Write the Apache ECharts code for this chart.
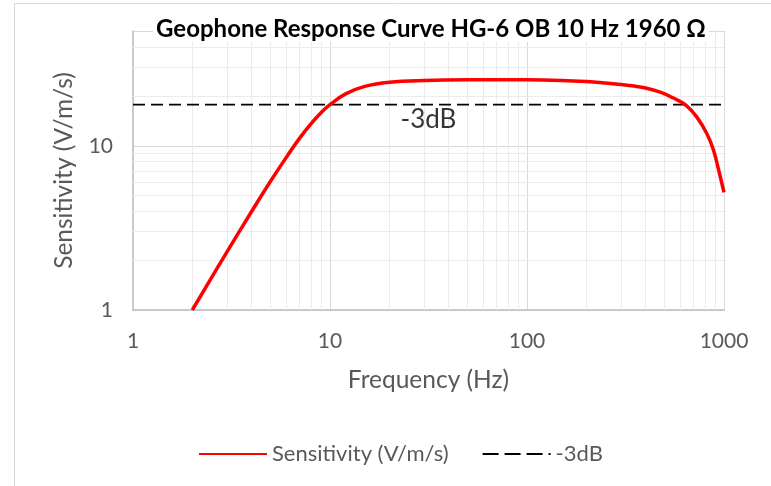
<!DOCTYPE html>
<html><head><meta charset="utf-8">
<script src="https://cdn.jsdelivr.net/npm/echarts@6/dist/echarts.min.js"></script>
<style>html,body{margin:0;padding:0;background:#fff}#c{width:771px;height:486px}</style>
</head><body><div id="c"></div>
<script>
// Data
const freq = [2, 2.5, 3, 4, 5, 6, 7, 8, 9, 10, 12, 15, 20, 30, 50, 100, 150, 200, 250, 300, 350, 400, 475, 550, 640, 730, 820, 885, 940, 1000];
const sens = [1.0, 1.57, 2.26, 3.98, 6.1, 8.5, 11.1, 13.6, 15.9, 17.8, 20.7, 23.0, 24.4, 25.0, 25.2, 25.2, 25.0, 24.6, 24.1, 23.6, 23.1, 22.5, 21.2, 19.6, 17.7, 14.9, 11.8, 9.4, 7.1, 5.2];
const dbLevel = 17.8;
const dbLabelFreq = 31.6;
const xTickLabels = [1, 10, 100, 1000];
const yTickLabels = [1, 10];
const xMinor = [2, 3, 4, 5, 6, 7, 8, 9, 20, 30, 40, 50, 60, 70, 80, 90, 200, 300, 400, 500, 600, 700, 800, 900];
const yMinor = [2, 3, 4, 5, 6, 7, 8, 9, 20, 30, 40];

const FONT = 'Lato';
const GRAY = '#595959';
const chart = echarts.init(document.getElementById('c'));
const option = {
  animation: false,
  backgroundColor: '#fff',
  graphic: [{
    type: 'rect', left: 12, top: 1, shape: { width: 800, height: 600 },
    style: { fill: 'none', stroke: '#d9d9d9', lineWidth: 1 }, silent: true
  }],
  title: {
    text: 'Geophone Response Curve HG-6 OB 10 Hz 1960 Ω',
    left: 428, textAlign: 'center', top: 16,
    backgroundColor: '#fff', padding: [1, 3],
    textStyle: { fontFamily: FONT, fontWeight: 'bold', fontSize: 24, color: '#000' }
  },
  grid: { left: 133, right: 47, top: 31, bottom: 176 },
  legend: {
    data: [
      { name: 'Sensitivity (V/m/s)' },
      { name: '-3dB', lineStyle: { type: [16, 6] } }
    ],
    left: 193, top: 438, itemWidth: 68, itemHeight: 14, itemGap: 33,
    itemStyle: { opacity: 0 },
    textStyle: { fontFamily: FONT, fontSize: 22, color: GRAY }
  },
  xAxis: {
    type: 'log', logBase: 10, min: 1, max: 1000,
    name: 'Frequency (Hz)', nameLocation: 'middle', nameGap: 58,
    nameTextStyle: { fontFamily: FONT, fontSize: 24.5, color: GRAY },
    axisLine: { show: true, lineStyle: { color: '#bfbfbf', width: 1.5 } },
    axisTick: { show: false },
    axisLabel: {
      margin: 21, fontFamily: FONT, fontSize: 21, color: GRAY,
      formatter: v => xTickLabels.some(t => Math.abs(t - v) < 1e-6 * t) ? String(Math.round(v)) : ''
    },
    splitLine: { show: true, lineStyle: { color: '#d9d9d9', width: 1 } }
  },
  yAxis: {
    type: 'log', logBase: 10, min: 1, max: 50,
    name: 'Sensitivity (V/m/s)', nameLocation: 'middle', nameGap: 56,
    nameTextStyle: { fontFamily: FONT, fontSize: 24.5, color: GRAY },
    axisLine: { show: true, lineStyle: { color: '#bfbfbf', width: 1.5 } },
    axisTick: { show: false },
    axisLabel: {
      margin: 20, fontFamily: FONT, fontSize: 21, color: GRAY,
      formatter: v => yTickLabels.some(t => Math.abs(t - v) < 1e-6 * t) ? String(Math.round(v)) : ''
    },
    splitLine: { show: true, lineStyle: { color: '#d9d9d9', width: 1 } }
  },
  series: [
    {
      name: 'minor-grid', type: 'line', data: [], z: 1, silent: true,
      markLine: {
        z: 1, silent: true, symbol: 'none', animation: false,
        label: { show: false },
        lineStyle: { color: '#ececec', type: 'solid', width: 1 },
        data: xMinor.map(v => ({ xAxis: v })).concat(yMinor.map(v => ({ yAxis: v })))
      }
    },
    {
      name: '-3dB', type: 'line', z: 6, symbol: 'none',
      data: [[1, dbLevel], [1000, dbLevel]],
      itemStyle: { color: '#000', opacity: 0 },
      lineStyle: { color: '#000', type: [12, 6], width: 1.75 }
    },
    {
      name: 'label', type: 'scatter', z: 6, symbolSize: 1,
      itemStyle: { color: 'rgba(0,0,0,0)' },
      data: [[dbLabelFreq, dbLevel]],
      label: { show: true, position: 'bottom', distance: 1, formatter: '-3dB',
        fontFamily: FONT, fontSize: 26, color: '#000' }
    },
    {
      name: 'Sensitivity (V/m/s)', type: 'line', z: 7, symbol: 'none', smooth: 0.4,
      data: freq.map((f, i) => [f, sens[i]]),
      lineStyle: { color: '#ff0000', width: 3.5 },
      itemStyle: { color: '#ff0000', opacity: 0 }
    }
  ]
};
chart.setOption(option);
</script></body></html>
